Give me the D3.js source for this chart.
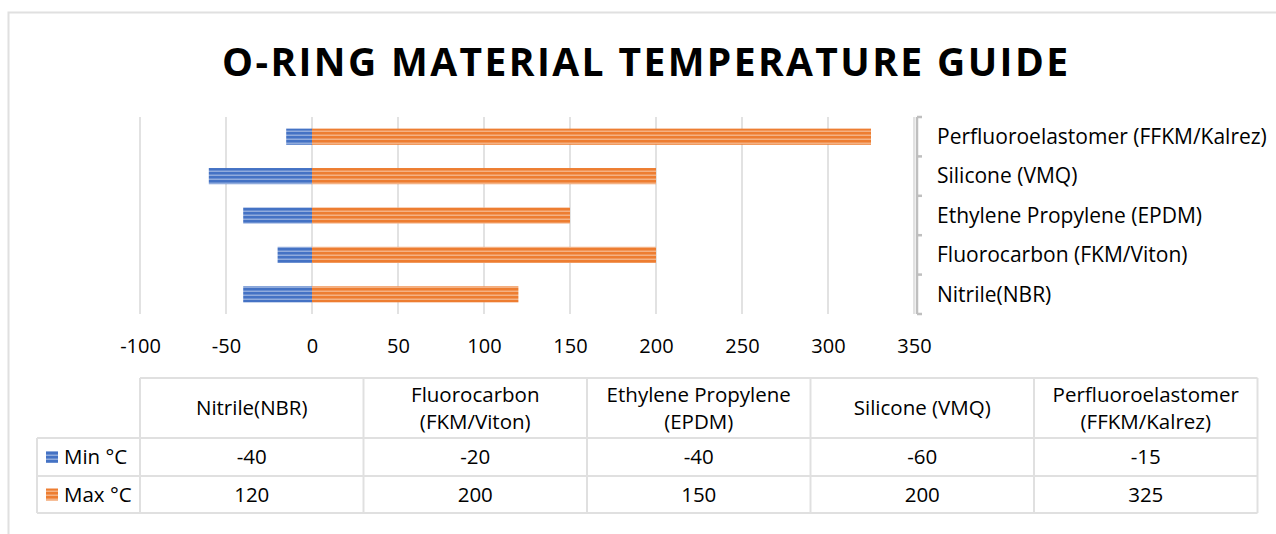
<!DOCTYPE html>
<html>
<head>
<meta charset="utf-8">
<script src="https://cdn.jsdelivr.net/npm/d3@7"></script>
<style>
  html, body { margin: 0; padding: 0; background: #fff; }
  svg { display: block; font-family: "Open Sans", sans-serif; }
</style>
</head>
<body>
<div id="svg-container"></div>
<script>
////////////////////////////////////////////////////////////////////
////////////////////////////  Data  ////////////////////////////////
const title = "O-RING MATERIAL TEMPERATURE GUIDE";
const materials = [
  "Nitrile(NBR)",
  "Fluorocarbon (FKM/Viton)",
  "Ethylene Propylene (EPDM)",
  "Silicone (VMQ)",
  "Perfluoroelastomer (FFKM/Kalrez)"
];
// table headers wrap onto two lines
const tableHeaders = [
  ["Nitrile(NBR)"],
  ["Fluorocarbon", "(FKM/Viton)"],
  ["Ethylene Propylene", "(EPDM)"],
  ["Silicone (VMQ)"],
  ["Perfluoroelastomer", "(FFKM/Kalrez)"]
];
const minTemp = [-40, -20, -40, -60, -15];
const maxTemp = [120, 200, 150, 200, 325];
const seriesNames = ["Min °C", "Max °C"];
const xTicks = [-100, -50, 0, 50, 100, 150, 200, 250, 300, 350];

////////////////////////////////////////////////////////////////////
////////////////////////////  Init  ////////////////////////////////
const width = 1276;
const height = 534;
const colors = { min: "#4472c4", max: "#ed7d31", grid: "#d9d9d9", axis: "#bfbfbf", border: "#e0e0e0" };

const svg = d3.select("#svg-container").append("svg")
  .attr("width", width).attr("height", height);

// striped fills
const defs = svg.append("defs");
function stripes(id, color) {
  const p = defs.append("pattern")
    .attr("id", id).attr("patternUnits", "userSpaceOnUse")
    .attr("width", 8).attr("height", 4);
  p.append("rect").attr("width", 8).attr("height", 4).attr("fill", color);
  p.append("rect").attr("y", 2.6).attr("width", 8).attr("height", 1.2)
    .attr("fill", "#fff").attr("opacity", 0.5);
}
stripes("stripe-min", colors.min);
stripes("stripe-max", colors.max);

// chart frame
svg.append("rect")
  .attr("x", 8.5).attr("y", 12.5)
  .attr("width", width + 10).attr("height", height + 10)
  .attr("fill", "none").attr("stroke", colors.border).attr("stroke-width", 2);

// title
svg.append("text")
  .attr("x", 645).attr("y", 76)
  .attr("text-anchor", "middle")
  .attr("font-size", 39).attr("font-weight", 700)
  .attr("textLength", 846).attr("lengthAdjust", "spacing")
  .attr("fill", "#000")
  .text(title);

// scales
const plot = { top: 117, bottom: 314, left: 140, right: 914 };
const xScale = d3.scaleLinear().domain([-100, 350]).range([plot.left, plot.right]);
const yScale = d3.scaleBand()
  .domain(materials.slice().reverse())
  .range([plot.top, plot.bottom])
  .paddingInner(0.59).paddingOuter(0.295);

// gridlines
svg.append("g")
  .selectAll("line")
  .data(xTicks)
  .join("line")
  .attr("x1", (d) => xScale(d)).attr("x2", (d) => xScale(d))
  .attr("y1", plot.top).attr("y2", plot.bottom)
  .attr("stroke", colors.grid).attr("stroke-width", 1.5);

// x axis labels
const xAxis = d3.axisBottom(xScale)
  .tickValues(xTicks)
  .tickFormat((d) => String(d))
  .tickSize(0).tickPadding(0);
svg.append("g")
  .attr("class", "x-axis")
  .attr("transform", `translate(0,${plot.bottom + 25})`)
  .call(xAxis)
  .call((g) => g.select(".domain").remove())
  .call((g) => g.selectAll("text")
    .attr("font-family", "Open Sans, sans-serif")
    .attr("font-size", 20).attr("fill", "#000"));

// bars
const rows = materials.map((m, i) => ({ name: m, min: minTemp[i], max: maxTemp[i] }));
const bars = svg.append("g");
bars.selectAll(".bar-min")
  .data(rows)
  .join("rect")
  .attr("class", "bar-min")
  .attr("x", (d) => xScale(d.min))
  .attr("y", (d) => yScale(d.name))
  .attr("width", (d) => xScale(0) - xScale(d.min))
  .attr("height", yScale.bandwidth())
  .attr("fill", "url(#stripe-min)");
bars.selectAll(".bar-max")
  .data(rows)
  .join("rect")
  .attr("class", "bar-max")
  .attr("x", xScale(0))
  .attr("y", (d) => yScale(d.name))
  .attr("width", (d) => xScale(d.max) - xScale(0))
  .attr("height", yScale.bandwidth())
  .attr("fill", "url(#stripe-max)");

// category axis on the right
const axisX = plot.right + 3;
const cat = svg.append("g");
cat.append("line")
  .attr("x1", axisX).attr("x2", axisX)
  .attr("y1", plot.top).attr("y2", plot.bottom)
  .attr("stroke", colors.axis).attr("stroke-width", 2.5);
const bounds = yScale.domain().map((d) => yScale(d) - yScale.step() * yScale.paddingInner() / 2);
bounds.push(plot.bottom);
cat.selectAll(".cat-tick")
  .data(bounds)
  .join("line")
  .attr("class", "cat-tick")
  .attr("x1", axisX).attr("x2", axisX + 5)
  .attr("y1", (d) => d).attr("y2", (d) => d)
  .attr("stroke", colors.axis).attr("stroke-width", 2.5);
cat.selectAll(".cat-label")
  .data(yScale.domain())
  .join("text")
  .attr("class", "cat-label")
  .attr("x", 937)
  .attr("y", (d) => yScale(d) + yScale.bandwidth() / 2)
  .attr("dy", "0.35em")
  .attr("font-size", 21).attr("fill", "#000")
  .text((d) => d);

////////////////////////////////////////////////////////////////////
////////////////////////////  Data table  //////////////////////////
const colScale = d3.scaleBand().domain(materials).range([140, 1257.5]);
const tbl = { top: 378, head: 438, mid: 476, bottom: 513, left: 37 };
const t = svg.append("g").attr("stroke", colors.border).attr("stroke-width", 2);

// horizontal rules
[[colScale.range()[0], tbl.top], [tbl.left, tbl.head], [tbl.left, tbl.mid], [tbl.left, tbl.bottom]]
  .forEach(([x0, y]) => {
    t.append("line").attr("x1", x0).attr("x2", colScale.range()[1]).attr("y1", y).attr("y2", y);
  });
// vertical rules
t.append("line").attr("x1", tbl.left).attr("x2", tbl.left).attr("y1", tbl.head).attr("y2", tbl.bottom);
materials.forEach((m) => {
  t.append("line").attr("x1", colScale(m)).attr("x2", colScale(m)).attr("y1", tbl.top).attr("y2", tbl.bottom);
});
t.append("line").attr("x1", colScale.range()[1]).attr("x2", colScale.range()[1]).attr("y1", tbl.top).attr("y2", tbl.bottom);

// header text
const fs = 20.5;
const headG = svg.append("g").attr("font-size", fs).attr("text-anchor", "middle").attr("fill", "#000");
materials.forEach((m, i) => {
  const lines = tableHeaders[i];
  const cx = colScale(m) + colScale.bandwidth() / 2;
  const cy = (tbl.top + tbl.head) / 2;
  lines.forEach((ln, j) => {
    headG.append("text")
      .attr("x", cx)
      .attr("y", cy + (j - (lines.length - 1) / 2) * 27)
      .attr("dy", "0.35em")
      .text(ln);
  });
});

// value rows
const tableRows = [
  { name: seriesNames[0], values: minTemp, fill: "url(#stripe-min)", y0: tbl.head, y1: tbl.mid },
  { name: seriesNames[1], values: maxTemp, fill: "url(#stripe-max)", y0: tbl.mid, y1: tbl.bottom }
];
tableRows.forEach((r) => {
  const cy = (r.y0 + r.y1) / 2;
  svg.append("rect")
    .attr("x", 46).attr("y", cy - 6)
    .attr("width", 12).attr("height", 12)
    .attr("fill", r.fill);
  svg.append("text")
    .attr("x", 64).attr("y", cy).attr("dy", "0.35em")
    .attr("font-size", fs).attr("fill", "#000")
    .text(r.name);
  materials.forEach((m, i) => {
    svg.append("text")
      .attr("x", colScale(m) + colScale.bandwidth() / 2)
      .attr("y", cy).attr("dy", "0.35em")
      .attr("text-anchor", "middle")
      .attr("font-size", fs).attr("fill", "#000")
      .text(r.values[i]);
  });
});
</script>
</body>
</html>
